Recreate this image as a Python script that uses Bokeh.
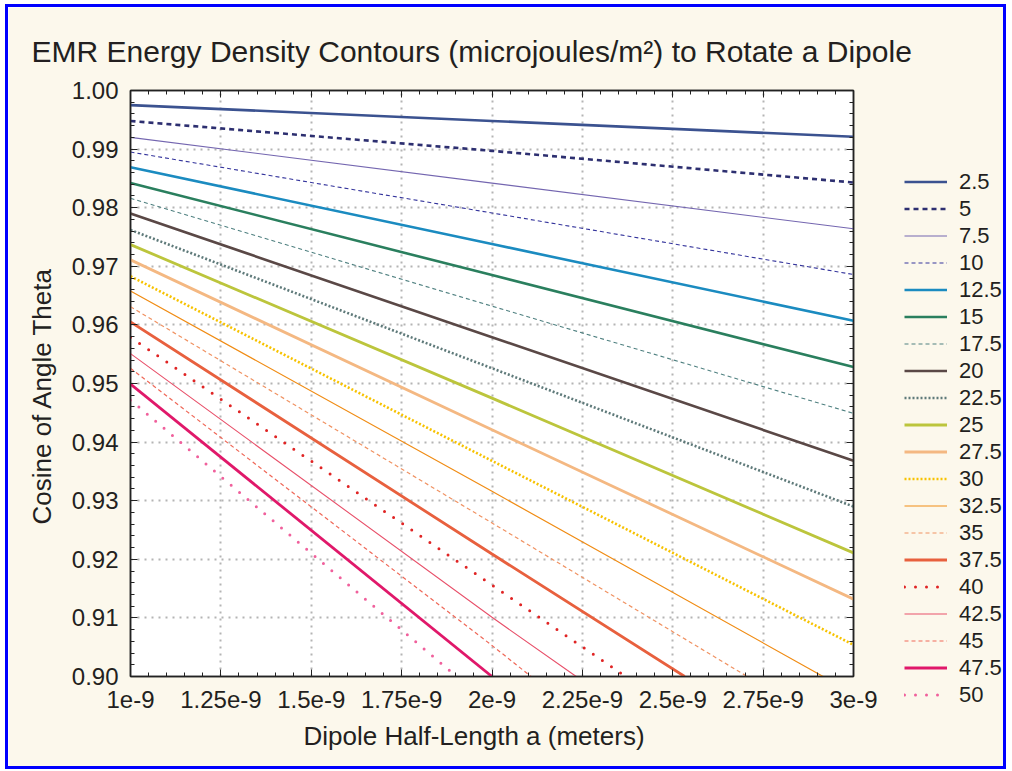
from bokeh.plotting import figure
from bokeh.models import (FixedTicker, LinearAxis, Legend, LegendItem, Title,
                          CustomJSTickFormatter, PrintfTickFormatter, Range1d)
from bokeh.embed import file_html
from bokeh.resources import INLINE

# ---------------- data ----------------
levels = ["2.5", "5", "7.5", "10", "12.5", "15", "17.5", "20", "22.5", "25",
          "27.5", "30", "32.5", "35", "37.5", "40", "42.5", "45", "47.5", "50"]

# cosine value at a = 1e-9 m
cos_at_1e9 = [0.9975, 0.9948, 0.9920, 0.9895, 0.9869, 0.9842, 0.9816, 0.9790,
              0.9762, 0.9737, 0.9711, 0.9683, 0.9658, 0.9631, 0.9605, 0.9579,
              0.9551, 0.9526, 0.9499, 0.9472]
# cosine value at a = 2e-9 m (None: contour already left the plot)
cos_at_2e9 = [0.9948, 0.9897, 0.9842, 0.9791, 0.9738, 0.9685, 0.9632, 0.9579,
              0.9526, 0.9475, 0.9421, 0.9368, 0.9316, 0.9262, 0.9209, 0.9156,
              0.9101, 0.9053, 0.9000, None]
# last point of each contour (right edge, or where it meets cos = 0.90)
end_a = [3.0e-9, 3.0e-9, 3.0e-9, 3.0e-9, 3.0e-9, 3.0e-9, 3.0e-9, 3.0e-9,
         3.0e-9, 3.0e-9, 3.0e-9, 3.0e-9, 2.916e-9, 2.706e-9, 2.533e-9,
         2.370e-9, 2.233e-9, 2.108e-9, 2.0e-9, 1.902e-9]
end_cos = [0.9921, 0.9843, 0.9764, 0.9686, 0.9607, 0.9528, 0.9449, 0.9368,
           0.9290, 0.9211, 0.9132, 0.9054, 0.9000, 0.9000, 0.9000, 0.9000,
           0.9000, 0.9000, 0.9000, 0.9000]

x_ticks = [1.0e-9, 1.25e-9, 1.5e-9, 1.75e-9, 2.0e-9, 2.25e-9, 2.5e-9, 2.75e-9, 3.0e-9]
y_ticks = [0.90, 0.91, 0.92, 0.93, 0.94, 0.95, 0.96, 0.97, 0.98, 0.99, 1.00]

# ---------------- styles ----------------
colors = ["#3b5290", "#2d2f70", "#7466b0", "#34349c", "#1b8bc0", "#2a7f5e",
          "#4f8080", "#5a4846", "#5f7a7a", "#bcc53c", "#f4b882", "#f7c200",
          "#f08c14", "#f09262", "#e8603e", "#e02424", "#e8506a", "#ef6858",
          "#e0186a", "#f0609c"]
widths = [2.6, 2.6, 1.1, 1.1, 2.6, 2.6, 1.1, 2.6, 2.6, 2.8,
          2.8, 2.6, 1.2, 1.2, 2.8, 3.0, 1.1, 1.2, 2.8, 3.0]
dashes = ["solid", "5 4", "solid", "4 3", "solid", "solid", "4 3", "solid",
          "2 2", "solid", "solid", "2 2", "solid", "4 3", "solid", "0 11",
          "solid", "4 3", "solid", "0 11"]
caps = ["butt"] * 15 + ["round", "butt", "butt", "butt", "round"]

FONT = "Liberation Sans"
TXT = "#231f20"
BG = "#fcf8ec"
AX = "#222222"


def series(i):
    xs = [1e-9]
    ys = [cos_at_1e9[i]]
    if cos_at_2e9[i] is not None and end_a[i] > 2e-9:
        xs.append(2e-9)
        ys.append(cos_at_2e9[i])
    xs.append(end_a[i])
    ys.append(end_cos[i])
    return xs, ys


FW, FH = 723, 586
p = figure(width=1001, height=765, frame_width=FW, frame_height=FH,
           x_range=Range1d(1e-9, 3e-9), y_range=Range1d(0.90, 1.00),
           output_backend="svg", toolbar_location=None,
           background_fill_color="white", border_fill_color=BG,
           min_border_left=122, min_border_right=150,
           min_border_top=83, min_border_bottom=90,
           title="EMR Energy Density Contours (microjoules/m\u00b2) to Rotate a Dipole")
p.styles = {"border": "3px solid #0000ff", "margin-left": "5px", "margin-top": "4px"}

p.title.text_font = FONT
p.title.text_font_size = "30px"
p.title.text_font_style = "normal"
p.title.text_color = TXT
p.title.align = "left"
p.title.offset = -99
p.title.standoff = 46

x_minor = [1e-9 + i * 0.05e-9 for i in range(41)]
y_minor = [0.90 + i * 0.002 for i in range(51)]
xt = FixedTicker(ticks=x_ticks, minor_ticks=x_minor)
yt = FixedTicker(ticks=y_ticks, minor_ticks=y_minor)

p.outline_line_color = AX
p.outline_line_width = 1.5

for ax, tk in ((p.xaxis[0], xt), (p.yaxis[0], yt)):
    ax.ticker = tk
    ax.major_label_text_font = FONT
    ax.major_label_text_font_size = "24px"
    ax.major_label_text_color = TXT
    ax.axis_line_color = AX
    ax.axis_line_width = 1.5
    ax.major_tick_in = 7
    ax.major_tick_out = 0
    ax.minor_tick_in = 4
    ax.minor_tick_out = 0
    ax.major_tick_line_color = AX
    ax.minor_tick_line_color = AX

p.xaxis[0].major_label_standoff = 14
p.yaxis[0].major_label_standoff = 12
p.xaxis[0].formatter = CustomJSTickFormatter(code="return tick.toString();")
p.yaxis[0].formatter = PrintfTickFormatter(format="%.2f")

for side, tk in (("above", xt), ("right", yt)):
    ax = LinearAxis(ticker=tk, major_label_text_font_size="0px",
                    major_label_text_color=None,
                    major_tick_in=7, major_tick_out=0,
                    minor_tick_in=4, minor_tick_out=0,
                    axis_line_color=AX, axis_line_width=1.5,
                    major_tick_line_color=AX, minor_tick_line_color=AX,
                    major_label_standoff=0)
    p.add_layout(ax, side)

# axis titles
p.add_layout(Title(text="Dipole Half-Length a (meters)", text_font=FONT,
                   text_font_size="26px", text_font_style="normal",
                   text_color=TXT, align="left", offset=173, standoff=17),
             "below")
p.add_layout(Title(text="Cosine of Angle Theta", text_font=FONT,
                   text_font_size="26px", text_font_style="normal",
                   text_color=TXT, align="left", offset=152, standoff=23),
             "left")

p.xgrid.ticker = xt
p.ygrid.ticker = yt
for g in (p.xgrid[0], p.ygrid[0]):
    g.grid_line_color = "#b4b4b4"
    g.grid_line_width = 2
    g.grid_line_dash = "2 5"

for i in range(len(levels)):
    xs, ys = series(i)
    p.line(xs, ys, line_color=colors[i], line_width=widths[i],
           line_dash=dashes[i], line_cap=caps[i])

# ---------------- legend panel (transparent, overlaid on the right margin) ----
pl = figure(width=138, height=600, x_range=Range1d(0, 1), y_range=Range1d(10, 11),
            output_backend="svg", toolbar_location=None,
            x_axis_location=None, y_axis_location=None, min_border=0,
            background_fill_color=None, border_fill_color=None,
            outline_line_color=None)
pl.grid.visible = False
pl.styles = {"position": "absolute", "left": "865px", "top": "150px"}
items = []
for i, lv in enumerate(levels):
    xs, ys = series(i)
    r = pl.line(xs, ys, line_color=colors[i], line_width=widths[i],
                line_dash=dashes[i], line_cap=caps[i])
    items.append(LegendItem(label=lv, renderers=[r]))

legend = Legend(items=items, location=(39, 42),
                label_text_font=FONT, label_text_font_size="22px",
                label_text_color=TXT,
                glyph_width=43, glyph_height=27, label_height=27,
                spacing=0, padding=0, margin=0, label_standoff=12,
                border_line_color=None, background_fill_alpha=0)
pl.add_layout(legend, "center")

open("out.html", "w").write(file_html([p, pl], INLINE))
